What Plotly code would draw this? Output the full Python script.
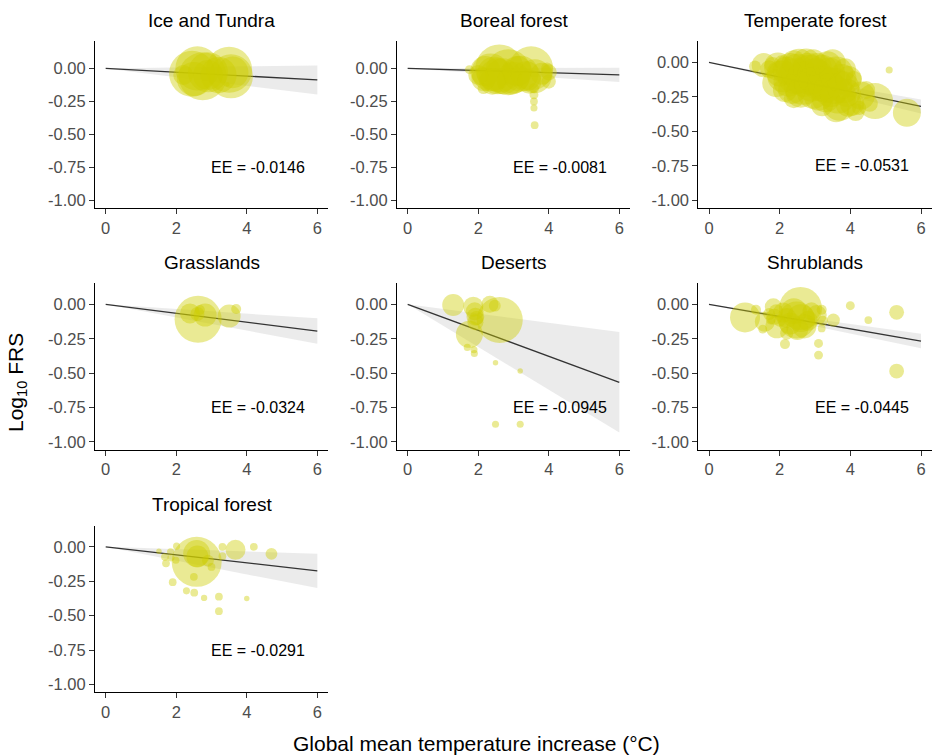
import plotly.graph_objects as go

# ---------------- data ----------------
BIOMES = ["Ice and Tundra", "Boreal forest", "Temperate forest",
          "Grasslands", "Deserts", "Shrublands", "Tropical forest"]
EE = [-0.0146, -0.0081, -0.0531, -0.0324, -0.0945, -0.0445, -0.0291]
# confidence band of the slope, read as y at x = 6
CI_LO_AT6 = [-0.198, -0.103, -0.370, -0.286, -0.932, -0.320, -0.300]
CI_HI_AT6 = [0.022, 0.005, -0.268, -0.102, -0.202, -0.214, -0.050]
LINE_X = [0, 6]

X_TICKS = [0, 2, 4, 6]
Y_TICKS = [-1.0, -0.75, -0.5, -0.25, 0.0]
Y_TICK_LABELS = ["-1.00", "-0.75", "-0.50", "-0.25", "0.00"]

X_ICE = [2.45, 2.75, 2.6, 3.5, 3.55, 2.9, 3.45, 2.2, 2.5, 3.6, 2.9, 3.2]
Y_ICE = [-0.04, -0.06, 0.0, -0.01, -0.06, -0.05, -0.12, -0.05, -0.08, -0.03, -0.03, -0.05]
W_ICE = [212, 230, 194, 212, 194, 90, 2, 40, 116, 100, 160, 130]

X_BOR = [1.75, 2.35, 2.6, 2.85, 2.55, 3.0, 3.2, 3.5, 3.6, 2.15, 4.0, 4.0, 3.95,
         3.58, 3.58, 3.58, 3.58, 3.6, 2.15,
         2.2, 2.45, 2.7, 3.1, 3.35, 2.9, 3.45, 2.4, 3.8, 2.0]
Y_BOR = [-0.01, -0.03, 0.0, -0.03, -0.06, -0.07, -0.04, 0.0, -0.06, -0.08, -0.03, -0.1, 0.0,
         -0.15, -0.2, -0.25, -0.3, -0.43, -0.15,
         -0.02, -0.04, -0.06, -0.02, -0.06, -0.1, -0.1, -0.1, -0.04, -0.05]
W_BOR = [8, 144, 230, 212, 130, 102, 130, 194, 116, 58, 26, 20, 14,
         10, 8, 6, 5, 6, 14,
         90, 116, 130, 90, 90, 68, 58, 68, 48, 40]

X_TEM = [1.55, 1.3, 1.7, 1.9, 2.0, 2.15, 2.3, 2.45, 2.55, 2.65, 2.75, 2.85, 2.95,
         3.05, 3.15, 3.3, 3.4, 3.5, 3.55, 3.7, 3.75, 3.85, 3.9, 4.05, 4.1, 4.3,
         4.45, 4.55, 4.7, 4.25, 5.1, 5.6, 2.4, 3.2, 1.8, 2.05, 4.15,
         1.95, 2.1, 2.25, 2.35, 2.5, 2.6, 2.7, 2.8, 2.9, 3.0, 3.1, 3.2, 3.3, 3.45,
         3.6, 3.65, 3.8, 3.95, 3.95, 3.6, 2.2, 3.35, 2.95, 2.4]
Y_TEM = [-0.02, -0.03, -0.05, -0.15, -0.08, -0.2, -0.04, -0.1, -0.01, -0.17, 0.0, -0.09, -0.22,
         -0.04, -0.15, -0.26, -0.08, 0.0, -0.17, -0.3, -0.12, -0.05, -0.22, -0.3, -0.12, -0.24,
         -0.2, -0.3, -0.28, -0.33, -0.055, -0.365, -0.26, -0.31, -0.02, 0.0, -0.36,
         -0.03, -0.1, -0.14, -0.2, -0.06, -0.22, -0.12, -0.04, -0.16, -0.1, -0.24, -0.06, -0.16,
         -0.2, -0.08, -0.24, -0.18, -0.12, -0.3, -0.34, -0.06, -0.02, 0.0, 0.0]
W_TEM = [58, 14, 32, 78, 68, 58, 90, 130, 90, 144, 78, 160, 102,
         90, 130, 78, 102, 68, 130, 116, 90, 48, 78, 58, 26, 78,
         32, 26, 130, 20, 5, 78, 40, 48, 26, 20, 32,
         78, 102, 90, 78, 116, 90, 130, 90, 116, 130, 90, 102, 130, 116,
         116, 130, 102, 68, 68, 68, 78, 78, 68, 58]

X_GRA = [2.62, 2.39, 2.82, 2.67, 3.5, 3.7, 2.6]
Y_GRA = [-0.109, -0.066, -0.078, -0.041, -0.085, -0.034, -0.07]
W_GRA = [221, 40, 53, 10, 53, 10, 20]

X_DES = [1.29, 1.86, 1.9, 1.92, 1.92, 1.75, 2.61, 2.33, 2.47, 1.69, 1.88, 1.89,
         2.49, 3.19, 2.49, 3.19, 1.95]
Y_DES = [-0.005, -0.017, -0.05, -0.09, -0.13, -0.218, -0.114, 0.0, -0.01, -0.313, -0.33, -0.357,
         -0.425, -0.485, -0.871, -0.871, -0.1]
W_DES = [48, 40, 32, 32, 26, 73, 212, 29, 14, 5, 5, 5,
         3, 3, 5, 5, 20]

X_SHR = [1.02, 1.33, 1.52, 2.59, 2.48, 1.82, 1.9, 1.7, 1.58, 1.92, 2.15, 2.2, 3.05, 3.19,
         3.22, 3.19, 3.52, 3.1, 3.1, 4.0, 4.51, 5.31, 5.31, 2.1, 2.3, 2.8, 1.75, 2.0,
         2.4, 2.6, 2.7, 2.2, 2.9, 1.85, 2.5]
Y_SHR = [-0.095, -0.04, -0.18, -0.03, -0.114, -0.017, -0.05, -0.07, -0.126, -0.163, -0.289, -0.21,
         -0.078, -0.04, -0.12, -0.175, -0.114, -0.284, -0.369, -0.01, -0.114, -0.058, -0.485,
         -0.06, -0.14, -0.12, -0.11, -0.12,
         -0.05, -0.1, -0.16, -0.1, -0.05, -0.09, -0.18]
W_SHR = [90, 10, 8, 185, 137, 29, 20, 14, 40, 53, 10, 17, 40, 10,
         10, 6, 17, 8, 8, 8, 6, 22, 22, 40, 48, 40, 10, 14,
         68, 78, 58, 40, 32, 26, 48]

X_TRO = [2.58, 2.58, 2.6, 1.51, 1.68, 1.71, 1.84, 2.01, 1.99, 1.9, 2.29, 2.51, 2.79, 3.21,
         3.21, 4.0, 2.5, 3.31, 3.31, 3.68, 4.2, 4.7, 3.0, 1.85, 2.9]
Y_TRO = [-0.109, -0.049, -0.07, -0.032, -0.073, -0.12, -0.036, 0.005, -0.097, -0.257, -0.32,
         -0.333, -0.371, -0.362, -0.468, -0.376, -0.218, 0.0, -0.068, -0.022, 0.0, -0.051,
         -0.146, -0.08, -0.1]
W_TRO = [250, 73, 48, 3, 6, 6, 5, 5, 5, 6, 5, 6, 4, 6,
         6, 3, 6, 6, 6, 40, 6, 14, 6, 5, 14]

POINTS = [(X_ICE, Y_ICE, W_ICE), (X_BOR, Y_BOR, W_BOR), (X_TEM, Y_TEM, W_TEM),
          (X_GRA, Y_GRA, W_GRA), (X_DES, Y_DES, W_DES), (X_SHR, Y_SHR, W_SHR),
          (X_TRO, Y_TRO, W_TRO)]
# y data maximum used for the scale (bubble tops), min fixed at -1
Y_MAX = [0.15, 0.15, 0.10, 0.10, 0.10, 0.10, 0.10]

# ---------------- layout geometry ----------------
W, H = 932, 755
COLS = [(95.1, 327.9), (397.1, 629.9), (698.4, 931.6)]
ROWS = [(41.0, 208.0), (283.0, 449.5), (525.5, 692.0)]
TITLE_Y = [20.7, 262.7, 504.0]

POINT_COLOR = "rgba(204,204,0,0.6)"
BAND_COLOR = "rgba(153,153,153,0.2)"
LINE_COLOR = "#333333"
FONT = "Liberation Sans, Arial, sans-serif"

fig = go.Figure()
annotations = []

for i, name in enumerate(BIOMES):
    r, c = divmod(i, 3)
    ax = "" if i == 0 else str(i + 1)
    xref, yref = "x" + ax, "y" + ax

    slope_lo = CI_LO_AT6[i] / LINE_X[-1]
    slope_hi = CI_HI_AT6[i] / LINE_X[-1]
    bx = LINE_X + LINE_X[::-1]
    by = [slope_hi * v for v in LINE_X] + [slope_lo * v for v in LINE_X[::-1]]
    fig.add_trace(go.Scatter(x=bx, y=by, fill="toself", fillcolor=BAND_COLOR,
                             mode="none", xaxis=xref, yaxis=yref, hoverinfo="skip"))
    fig.add_trace(go.Scatter(x=LINE_X, y=[EE[i] * v for v in LINE_X], mode="lines",
                             line=dict(color=LINE_COLOR, width=1.3),
                             xaxis=xref, yaxis=yref))
    px_, py_, pw_ = POINTS[i]
    fig.add_trace(go.Scatter(x=px_, y=py_, mode="markers",
                             marker=dict(size=pw_, sizemode="area", sizeref=0.2,
                                         color=POINT_COLOR, line=dict(width=0)),
                             xaxis=xref, yaxis=yref))

    x0, x1 = COLS[c]
    y0, y1 = ROWS[r]
    ymin, ymax = -1.0, Y_MAX[i]
    pad = 0.05 * (ymax - ymin)
    fig.update_layout(**{
        "xaxis" + ax: dict(domain=[x0 / W, x1 / W], range=[-0.3, 6.3], anchor=yref,
                           tickvals=X_TICKS, showgrid=False, zeroline=False,
                           showline=True, linecolor="black", linewidth=1.2,
                           ticks="outside", ticklen=5, tickwidth=1.1, tickcolor="#333333",
                           tickfont=dict(size=16.5, color="#4d4d4d")),
        "yaxis" + ax: dict(domain=[1 - y1 / H, 1 - y0 / H], range=[ymin - pad, ymax + pad],
                           anchor=xref, tickvals=Y_TICKS, ticktext=Y_TICK_LABELS,
                           showgrid=False, zeroline=False,
                           showline=True, linecolor="black", linewidth=1.2,
                           ticks="outside", ticklen=5, tickwidth=1.1, tickcolor="#333333",
                           tickfont=dict(size=16.5, color="#4d4d4d")),
    })
    annotations.append(dict(text=name, xref="paper", yref="paper",
                            x=(x0 + x1) / 2 / W, y=1 - TITLE_Y[r] / H,
                            xanchor="center", yanchor="middle", showarrow=False,
                            font=dict(size=19, color="black")))
    annotations.append(dict(text="EE = %.4f" % EE[i], xref=xref, yref=yref,
                            x=4.33, y=-0.75, xanchor="center", yanchor="middle",
                            showarrow=False, font=dict(size=16, color="black")))

annotations.append(dict(text="Global mean temperature increase (°C)", xref="paper",
                        yref="paper", x=476 / W, y=1 - 743 / H, xanchor="center",
                        yanchor="middle", showarrow=False,
                        font=dict(size=21, color="black")))
annotations.append(dict(text="Log<sub>10</sub> FRS", xref="paper", yref="paper",
                        x=17 / W, y=1 - 383 / H, xanchor="center", yanchor="middle",
                        textangle=-90, showarrow=False,
                        font=dict(size=21, color="black")))

fig.update_layout(width=W, height=H, margin=dict(l=0, r=0, t=0, b=0),
                  paper_bgcolor="white", plot_bgcolor="white", showlegend=False,
                  font=dict(family=FONT), annotations=annotations)

fig.write_html("out.html", config={"displayModeBar": False},
               post_script="document.body.style.margin='0px';document.body.style.overflow='hidden';")
